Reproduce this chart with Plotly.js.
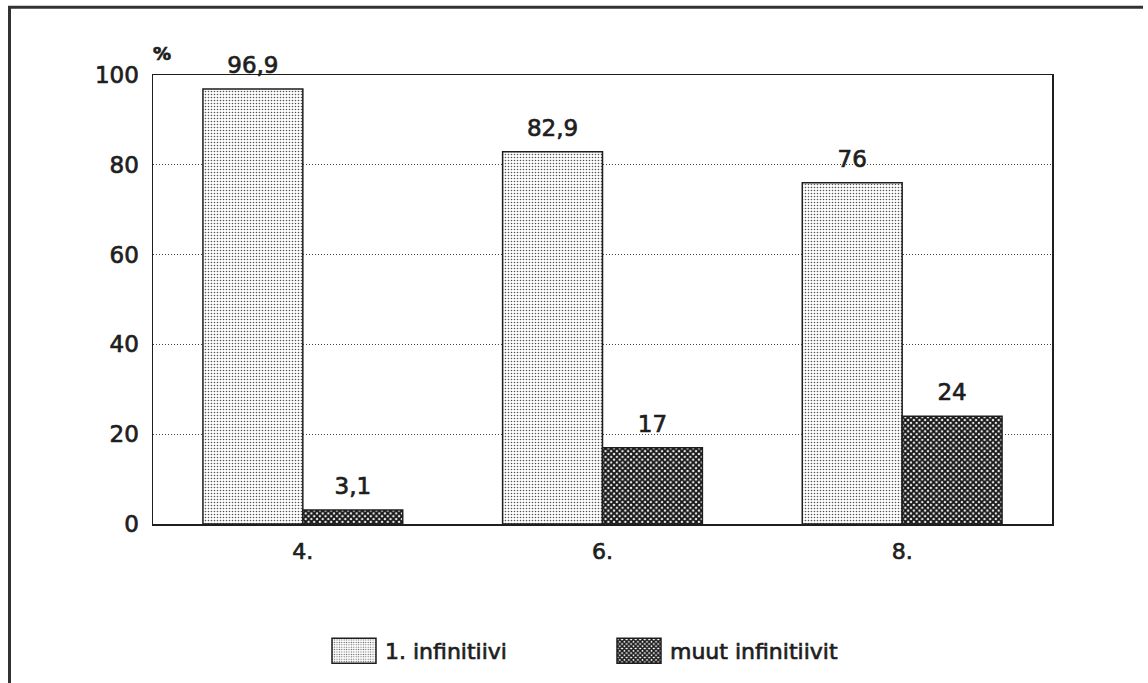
<!DOCTYPE html>
<html>
<head>
<meta charset="utf-8">
<script src="https://cdn.plot.ly/plotly-3.0.1.min.js"></script>
<style>
html,body{margin:0;padding:0;background:#fff;}
#chart{width:1148px;height:683px;}
#chart svg text{stroke:#1e1e1e;stroke-width:0.7px;}
</style>
</head>
<body>
<div id="chart"></div>
<script>
// ---- data ----
const grades = ['4.', '6.', '8.'];
const firstInfinitive = [96.9, 82.9, 76];
const otherInfinitives = [3.1, 17, 24];
const seriesNames = ['1. infinitiivi', 'muut infinitiivit'];
const yTicks = [0, 20, 40, 60, 80, 100];

// ---- layout constants (pixels) ----
const W = 1148, H = 683;
const M = {l: 153, r: 96, t: 75, b: 158};
const plotW = W - M.l - M.r, plotH = H - M.t - M.b;
const px2x = p => (p - M.l) / plotW;
const px2y = p => (H - M.b - p) / plotH;

const FONT = 'DejaVu Sans, Verdana, sans-serif';
const INK = '#1e1e1e';
const fmt = v => String(v).replace('.', ',');

const data = [
  {
    type: 'bar', name: seriesNames[0], x: grades, y: firstInfinitive,
    text: firstInfinitive.map(fmt), textposition: 'outside', cliponaxis: false,
    constraintext: 'none', textangle: 0,
    textfont: {family: FONT, size: 23, color: INK},
    marker: {
      color: '#ffffff',
      line: {color: INK, width: 1.5},
      pattern: {shape: '.', size: 3, solidity: 0.22, fgcolor: '#555', bgcolor: '#ffffff', fillmode: 'replace'}
    }
  },
  {
    type: 'bar', name: seriesNames[1], x: grades, y: otherInfinitives,
    text: otherInfinitives.map(fmt), textposition: 'outside', cliponaxis: false,
    constraintext: 'none', textangle: 0,
    textfont: {family: FONT, size: 23, color: INK},
    marker: {
      color: '#222',
      line: {color: INK, width: 1.5},
      pattern: {shape: 'x', size: 4, solidity: 0.72, fgcolor: '#161616', bgcolor: '#ffffff', fillmode: 'replace'}
    }
  }
];

const layout = {
  width: W, height: H,
  margin: M,
  paper_bgcolor: '#fff', plot_bgcolor: '#fff',
  font: {family: FONT, size: 23, color: INK},
  barmode: 'group', bargap: 1/3, bargroupgap: 0,
  showlegend: true,
  legend: {
    orientation: 'h', x: px2x(319), xanchor: 'left', y: px2y(651), yanchor: 'middle',
    font: {family: FONT, size: 22, color: INK},
    itemwidth: 56, entrywidth: 214, entrywidthmode: 'pixels',
    bgcolor: 'rgba(0,0,0,0)', traceorder: 'normal'
  },
  xaxis: {
    type: 'category', showgrid: false, zeroline: false,
    showline: true, mirror: true, linecolor: INK, linewidth: 1.5,
    ticks: '', ticklabelstandoff: 7,
    tickfont: {family: FONT, size: 22, color: INK}
  },
  yaxis: {
    range: [0, 100], tickvals: yTicks, ticktext: yTicks.map(String),
    showgrid: true, gridcolor: '#444', gridwidth: 1, griddash: '1px,2px',
    zeroline: false, showline: true, mirror: true, linecolor: INK, linewidth: 1.5,
    ticks: '', ticklabelstandoff: 8,
    tickfont: {family: FONT, size: 23, color: INK}
  },
  annotations: [
    {text: '%', xref: 'paper', yref: 'paper', x: px2x(162), y: px2y(53),
     xanchor: 'center', yanchor: 'middle', showarrow: false,
     font: {family: FONT, size: 18, color: INK, weight: 'bold'}}
  ],
  shapes: [
    {type: 'line', xref: 'paper', yref: 'paper', x0: px2x(8), x1: px2x(1143), y0: px2y(7), y1: px2y(7),
     line: {color: '#333', width: 3}},
    {type: 'line', xref: 'paper', yref: 'paper', x0: px2x(9.5), x1: px2x(9.5), y0: px2y(6), y1: px2y(690),
     line: {color: '#333', width: 3}}
  ]
};

const gd = document.getElementById('chart');
Plotly.newPlot(gd, data, layout, {staticPlot: true, displayModeBar: false}).then(() => {
  // enlarge the legend swatches to the wide rectangles of the original
  gd.querySelectorAll('.legend .traces').forEach(g => {
    const txt = g.querySelector('text.legendtext');
    if (!txt) return;
    const tx = parseFloat(txt.getAttribute('x')) || 40;
    g.querySelectorAll('.legendpoints path').forEach(p => {
      p.setAttribute('transform', '');
      p.setAttribute('d', `M${tx - 9},12.5H${tx - 53}V-12.5H${tx - 9}Z`);
      p.style.strokeWidth = '1.5px';
    });
  });
  // lift the value labels a little higher above the bars, as in the original
  gd.querySelectorAll('text.bartext').forEach(t => {
    const tr = t.getAttribute('transform') || '';
    t.setAttribute('transform', 'translate(0,-8) ' + tr);
  });
});
</script>
</body>
</html>
